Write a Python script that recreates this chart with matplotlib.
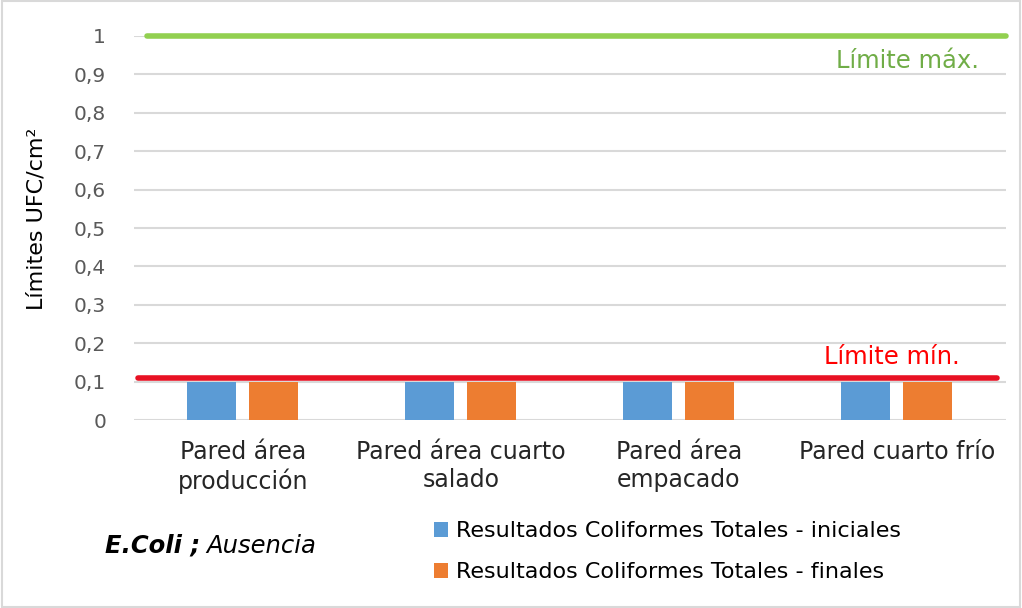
import numpy as np
import matplotlib.pyplot as plt
from matplotlib.patches import Rectangle

# Resultados de superficies (UFC/cm²)
categorias = ['Pared área\nproducción', 'Pared área cuarto\nsalado',
              'Pared área\nempacado', 'Pared cuarto frío']
iniciales = [0.1, 0.1, 0.1, 0.1]
finales = [0.1, 0.1, 0.1, 0.1]
limite_max = 1.0
limite_min = 0.11
yticks = [0, 0.1, 0.2, 0.3, 0.4, 0.5, 0.6, 0.7, 0.8, 0.9, 1]

plt.rcParams['font.family'] = ['DejaVu Sans']

fig = plt.figure(figsize=(10.22, 6.08), dpi=100)
fig.patch.set_facecolor('white')
fig.add_artist(Rectangle((0.002, 0.002), 0.996, 0.996, transform=fig.transFigure,
                         fill=False, edgecolor='#d9d9d9', linewidth=1.5))

ax = fig.add_axes([0.131, 0.309, 0.853, 0.632])
x = np.arange(len(categorias))
w = 0.225
ax.bar(x - 0.142, iniciales, w, color='#5b9bd5', zorder=2,
       label='Resultados Coliformes Totales - iniciales')
ax.bar(x + 0.142, finales, w, color='#ed7d31', zorder=2,
       label='Resultados Coliformes Totales - finales')

# límites
ax.plot([-0.44, 3.5], [limite_max, limite_max], color='#92d050', lw=4,
        solid_capstyle='round', zorder=3, clip_on=False)
ax.plot([-0.48, 3.46], [limite_min, limite_min], color='#e81123', lw=4,
        solid_capstyle='round', zorder=3, clip_on=False)
ax.text(3.38, 0.935, 'Límite máx.', color='#70ad47', fontsize=17.5, ha='right', va='center')
ax.text(3.29, 0.165, 'Límite mín.', color='#ff0000', fontsize=17.5, ha='right', va='center')

ax.set_xlim(-0.5, 3.5)
ax.set_ylim(0, 1)
ax.set_yticks(yticks)
ax.set_yticklabels([str(t).replace('.', ',') for t in yticks], color='#595959', fontsize=14.5)
ax.set_xticks(x)
ax.set_xticklabels(categorias, fontsize=17, color='#262626', linespacing=1.25)
ax.tick_params(length=0, axis='both')
ax.tick_params(axis='x', pad=14)
ax.tick_params(axis='y', pad=20)
ax.grid(axis='y', color='#d9d9d9', lw=1.5, zorder=0)
for s in ax.spines.values():
    s.set_visible(False)
ax.set_ylabel('Límites UFC/cm²', fontsize=16, color='#000000')
ax.yaxis.set_label_coords(-0.1, 0.523)

leg = fig.legend(loc='center left', bbox_to_anchor=(0.405, 0.093), frameon=False,
                 fontsize=16, handlelength=0.65, handleheight=0.65, handletextpad=0.35,
                 labelspacing=0.95)

t1 = fig.text(0.103, 0.102, 'E.Coli ;', fontsize=17.5, fontweight='bold', style='italic',
              va='center', ha='left')
fig.canvas.draw()
bb = t1.get_window_extent().transformed(fig.transFigure.inverted())
fig.text(bb.x1 + 0.006, 0.102, 'Ausencia', fontsize=17.5, style='italic', va='center', ha='left')

fig.savefig('out.png', dpi=100)
